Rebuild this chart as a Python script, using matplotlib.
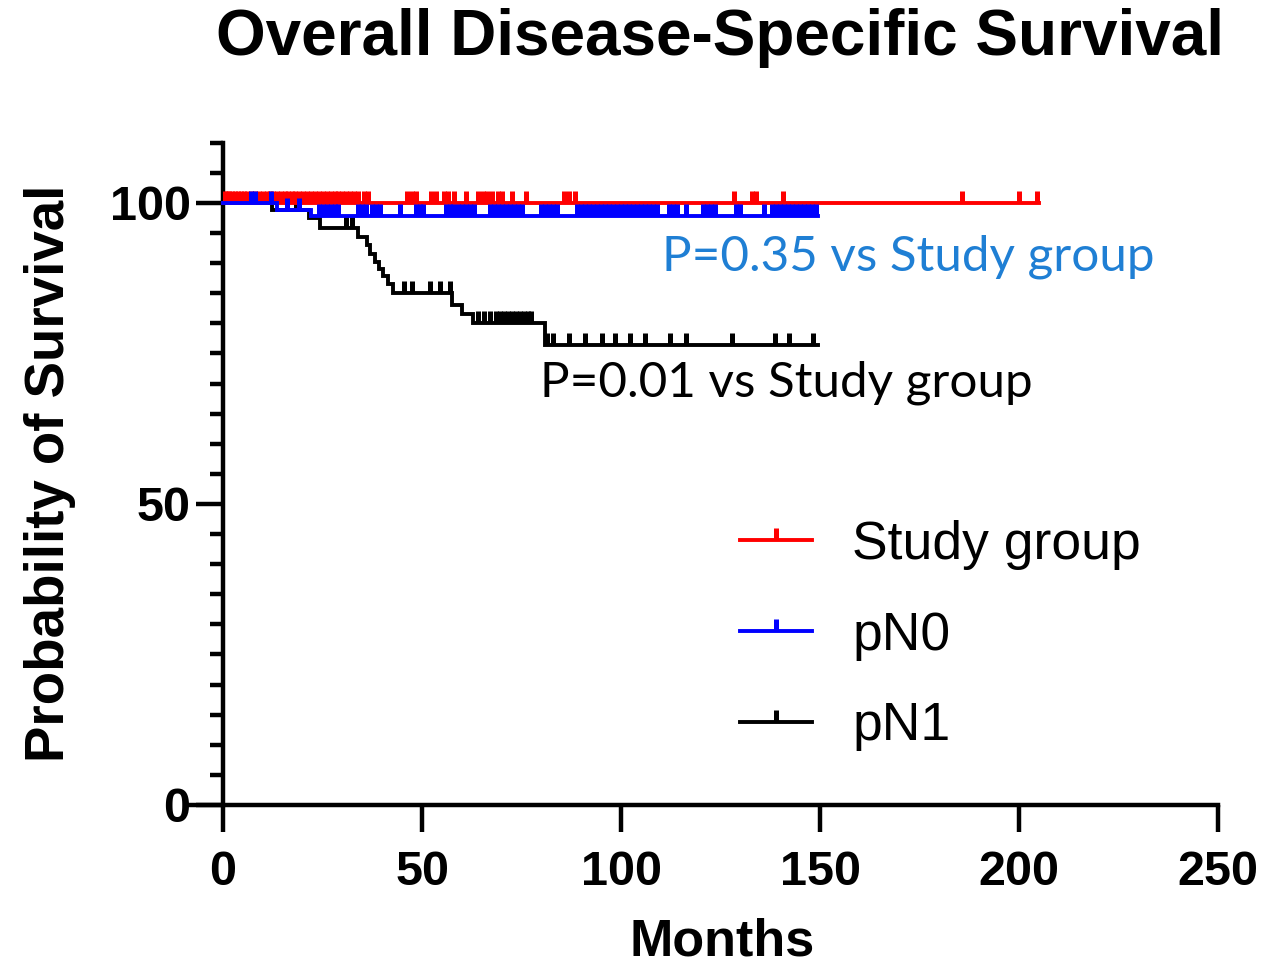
import numpy as np
import matplotlib
matplotlib.use("Agg")
import matplotlib.pyplot as plt
from matplotlib.path import Path
from matplotlib.lines import Line2D
from matplotlib.ticker import MultipleLocator

# ---------------- data ----------------
title = "Overall Disease-Specific Survival"
x_label = "Months"
y_label = "Probability of Survival"
group_names = ["Study group", "pN0", "pN1"]
group_colors = ["#ff0000", "#0000ff", "#000000"]

# Kaplan-Meier step curves (time in months, survival in %)
study_time = [0, 205]
study_surv = [100, 100]
study_censor = [0.5, 1, 1.5, 2.2, 3, 3.8, 4.5, 5.3, 6, 7, 8, 9, 10, 11, 11.8, 12.6, 13.5,
                14.5, 15.5, 16.3, 17.2, 18, 19, 20, 21, 22, 23, 24, 25, 26, 27, 28, 29, 30,
                31, 32, 33, 34, 35.5, 36.5, 46.2, 47.5, 48.5, 52.3, 53.5, 55.5, 56.5, 58,
                61, 64, 65.2, 66.2, 67.7, 69, 70.2, 72.5, 76.2, 85.7, 87, 88.5, 128.5,
                132.8, 134, 140.7, 185.7, 200, 204.5]

pn0_time = [0, 13.5, 22, 149.5]
pn0_surv = [100, 98.9, 97.8, 97.8]
pn0_censor = [7, 8, 12, 16, 19, 24, 25, 26, 27, 28, 29, 34, 35, 36, 37.5, 38.5, 39.5,
              44.5, 48.5, 49.5, 50.3, 56, 57, 57.8, 59, 60, 61, 62, 63, 67, 68, 69, 70,
              71, 72, 73, 74, 75, 80, 81, 82, 83, 84, 89, 90, 91, 92, 93, 94, 95, 96, 97,
              98, 99, 100, 101, 102, 103, 104, 105, 106, 107, 108, 109, 112, 113, 114,
              116.3, 120.5, 121.5, 122.5, 123.5, 129, 129.8, 135.9, 138, 139, 140, 141,
              142, 143, 144, 145, 146, 147, 148, 149]

pn1_time = [0, 12.3, 21.5, 24.4, 34.0, 36.1, 37.0, 38.2, 39.3, 40.3, 41.5, 42.8,
            57.6, 60.0, 62.9, 80.9, 149.5]
pn1_surv = [100, 98.8, 97.5, 95.8, 94.4, 93.0, 91.6, 90.2, 89.0, 87.8, 86.5, 85.0,
            83.0, 81.5, 80.0, 76.4, 76.4]
pn1_censor = [18.3, 31, 32.5, 45.5, 47.5, 52, 54.5, 57, 64, 65.5, 67, 68.5, 69.5, 70.5,
              71.5, 72.5, 73.5, 74.5, 75.5, 76.5, 77.5, 81.5, 83, 87, 91, 95.3, 98.6,
              102.3, 106, 112.4, 116.4, 128, 138.6, 142.3, 148.3]

p_texts = ["P=0.35 vs Study group", "P=0.01 vs Study group"]
p_text_pos = [(110.3, 91.0), (79.7, 70.2)]
p_text_colors = ["#1f7fd4", "#000000"]

x_ticks = [0, 50, 100, 150, 200, 250]
y_ticks = [0, 50, 100]

# ---------------- style ----------------
FONT = "Liberation Sans"
tick_marker = Path([(0, 0), (0, 1)], [Path.MOVETO, Path.LINETO])
LW = 2.8
MS = 17
MEW = 3.6
AXW = 3.2

fig = plt.figure(figsize=(12.81, 9.71), dpi=100)
ax = fig.add_axes([0.1468, 0.171, 0.804, 0.682])


def surv_at(times, surv, t):
    idx = np.searchsorted(np.asarray(times), np.asarray(t), side="right") - 1
    return np.asarray(surv)[idx]


groups = [
    (study_time, study_surv, study_censor, 3),
    (pn0_time, pn0_surv, pn0_censor, 4),
    (pn1_time, pn1_surv, pn1_censor, 2),
]
for (t, s, c, z), col in zip(groups, group_colors):
    ax.plot(t, s, drawstyle="steps-post", color=col, lw=LW, zorder=z,
            solid_joinstyle="miter")
    ax.plot(c, surv_at(t, s, c), linestyle="none", marker=tick_marker,
            markersize=MS, markeredgewidth=MEW, color=col, markeredgecolor=col,
            zorder=z)

ax.set_xlim(-8.8, 250)
ax.set_ylim(0, 110)
ax.spines["left"].set_position(("data", 0))
ax.spines["top"].set_visible(False)
ax.spines["right"].set_visible(False)
for sp in ("left", "bottom"):
    ax.spines[sp].set_linewidth(AXW)
ax.set_xticks(x_ticks)
ax.set_yticks(y_ticks)
ax.yaxis.set_minor_locator(MultipleLocator(5))
ax.tick_params(axis="both", which="major", direction="out", length=19.4,
               width=AXW, labelsize=35)
ax.tick_params(axis="y", which="minor", direction="out", length=9.4, width=AXW)
ax.tick_params(axis="y", which="major", pad=4)
ax.tick_params(axis="x", which="major", pad=13)
for lab in ax.get_xticklabels() + ax.get_yticklabels():
    lab.set_fontfamily(FONT)
    lab.set_fontweight("bold")

for txt, (px, py), col in zip(p_texts, p_text_pos, p_text_colors):
    ax.text(px, py, txt, color=col, fontsize=35.6, family="Lato",
            ha="left", va="center")

handles = [Line2D([], [], color=col, lw=LW, marker=tick_marker, markersize=MS,
                  markeredgewidth=MEW, markeredgecolor=col)
           for col in group_colors]
leg = ax.legend(handles, group_names, loc="upper left",
                bbox_to_anchor=(0.536, 0.430), frameon=False, borderpad=0,
                borderaxespad=0, handlelength=1.35, handletextpad=0.75,
                labelspacing=0.76, numpoints=1,
                prop={"family": FONT, "size": 38.5})

fig.text(0.562, 1 - 38 / 971, title, ha="center", va="center", fontsize=46,
         fontweight="bold", family=FONT)
fig.text(722 / 1281, 1 - 942 / 971, x_label, ha="center", va="center",
         fontsize=37.5, fontweight="bold", family=FONT)
fig.text(50 / 1281, 1 - 473 / 971, y_label, ha="center", va="center",
         rotation=90, fontsize=39.3, fontweight="bold", family=FONT)

fig.savefig("out.png", dpi=100)
